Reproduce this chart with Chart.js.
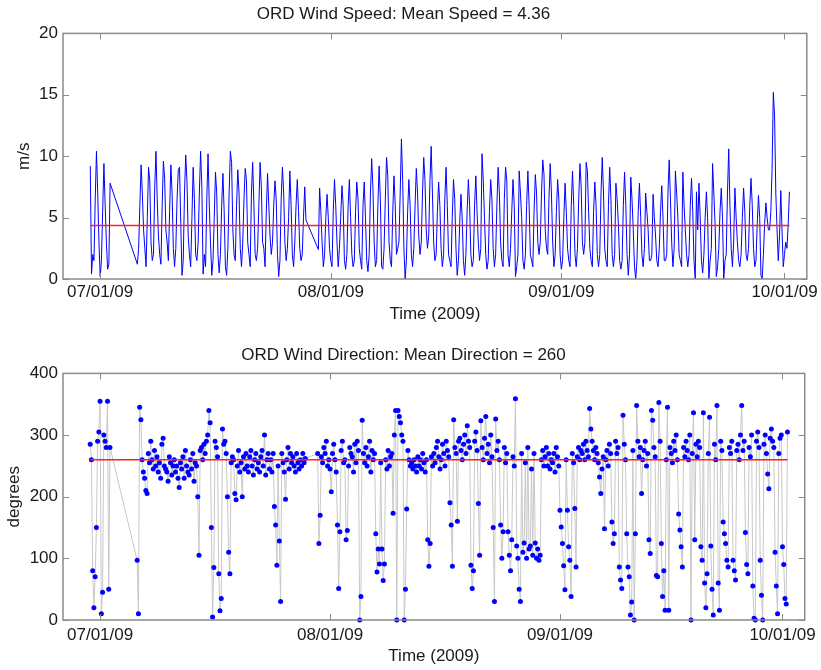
<!DOCTYPE html>
<html><head><meta charset="utf-8">
<script src="https://cdn.jsdelivr.net/npm/chart.js@4.4.0/dist/chart.umd.min.js"></script>
<style>
html,body{margin:0;padding:0;background:#fff;}
#wrap{position:relative;width:821px;height:670px;overflow:hidden;}
canvas{position:absolute;left:0;}
#c1{top:0;} #c2{top:335px;}
</style></head><body>
<div id="wrap"><canvas id="c1" width="821" height="335"></canvas><canvas id="c2" width="821" height="335"></canvas></div>
<script>
// x values are days since 07/01/09 00:00
const xTickDays = [0, 31, 62, 92];
const xTickLabels = ['07/01/09', '08/01/09', '09/01/09', '10/01/09'];
const segStartDays = [-4/3, 5, 29 + 1/3];
const stepDays = 1/6; // 4-hourly samples
const meanSpeed = 4.36;
const meanDirection = 260;

const speedSeg1 = [9.2,0.4,2.0,1.5,6.5,10.4,7.0,3.0,0.2,1.5,5.5,9.4,6.0,3.0,0.8,1.2,7.8];
const speedSeg2 = [
1.2,2.5,6.0,9.3,7.0,4.0, 2.5,1.0,5.0,9.1,8.0,3.0, 1.5,2.0,7.5,10.4,6.5,3.5, 2.0,1.2,6.0,9.6,8.2,4.0,
3.0,1.5,5.5,9.3,7.0,2.5, 1.0,2.5,6.5,8.9,9.1,4.5, 0.3,1.5,7.0,10.1,8.0,3.5, 2.0,1.0,5.0,9.1,6.5,2.0,
1.5,3.0,7.0,10.4,7.5,0.4, 2.0,1.0,6.5,10.2,6.0,3.0, 0.3,1.5,5.0,8.7,7.0,2.0, 0.5,2.0,6.0,8.6,5.5,1.0,
0.3,2.5,7.0,10.4,9.5,4.0, 2.0,1.5,6.0,8.9,7.0,2.5, 1.0,3.0,6.5,9.0,8.0,3.0, 2.0,1.0,7.0,9.5,6.0,2.0,
1.5,2.5,6.0,9.5,7.5,3.0, 2.5,1.0,5.5,8.6,6.0,3.5, 2.0,3.0,6.0,8.0,6.5,2.0, 0.2,1.5,6.5,9.1,7.0,3.0,
1.5,2.5,5.0,8.8,6.0,2.0, 1.0,3.0,6.0,8.1,5.5,2.5, 1.5,2.0,5.0,7.5,4.8];
const speedSeg3 = [
2.4,7.4,5.5,3.0,
1.0,2.0,5.0,6.9,5.0,2.5, 1.5,1.0,5.5,8.1,6.0,3.0, 1.0,2.5,5.0,7.6,6.0,1.5, 0.8,2.0,6.0,8.1,5.0,2.0,
1.0,1.5,5.5,7.9,6.5,2.5, 1.5,0.8,6.0,7.9,5.0,1.5, 0.6,2.0,7.0,9.8,7.5,3.0, 1.0,1.5,6.0,9.2,6.5,1.0,
0.8,2.5,6.5,9.9,8.4,3.0, 1.5,1.0,5.5,8.4,6.0,2.0, 2.5,3.0,7.0,11.4,8.0,2.5, 0.0,1.5,5.5,8.1,6.0,2.0,
1.0,2.5,6.0,9.0,7.0,3.5, 2.0,3.0,7.0,9.9,8.0,4.0, 2.5,3.5,8.0,10.8,7.0,3.0, 1.5,2.0,5.5,7.9,6.0,2.5,
1.0,2.0,6.5,9.1,6.0,2.0, 1.5,1.0,5.0,8.1,6.5,2.5, 0.3,1.5,4.5,6.9,5.0,1.5, 0.3,2.0,5.5,8.1,6.0,2.0,
1.0,1.5,6.0,8.4,5.5,3.0, 1.5,2.5,10.2,8.0,5.0,2.0, 0.8,1.5,5.5,8.1,6.5,2.5, 1.0,2.0,6.0,9.1,7.0,3.0,
1.5,1.0,6.5,9.1,8.0,2.0, 1.0,2.5,5.5,8.1,6.0,0.2, 1.0,2.0,8.8,7.0,5.0,1.5, 0.8,2.0,6.0,8.8,6.0,2.0,
1.5,1.0,5.5,8.5,7.0,3.0, 2.0,3.0,7.0,9.7,8.5,4.0, 2.5,2.0,6.5,9.4,7.0,3.0, 1.0,2.0,5.5,8.1,6.5,2.0,
0.8,1.5,5.0,7.8,5.5,2.5, 1.5,1.0,6.0,8.8,6.0,2.0, 1.0,2.5,6.5,9.4,7.5,3.0, 2.0,3.0,9.5,8.8,5.5,2.5,
1.5,1.0,5.5,7.9,6.0,2.0, 1.0,2.0,7.0,9.9,7.0,2.5, 1.5,1.0,6.0,9.1,6.5,2.0, 1.0,2.0,7.8,6.5,4.5,1.5,
0.8,1.5,6.0,8.7,6.0,2.0, 0.3,2.0,8.3,6.5,4.0,1.0, 0.0,1.5,5.5,7.8,5.0,2.0, 1.0,2.5,7.0,5.5,4.0,1.5,
1.5,2.0,6.9,5.0,3.5,1.5, 1.0,2.5,5.5,7.6,5.0,1.5, 1.5,2.0,7.0,9.7,6.5,3.0, 1.0,2.5,8.8,7.0,5.0,2.0,
1.5,1.0,8.7,6.0,4.0,2.0, 1.0,2.0,6.0,8.2,5.5,1.5, 0.0,7.1,4.0,7.8,5.0,1.5, 0.5,2.0,5.0,7.1,5.0,0.0,
1.5,2.5,9.4,7.0,4.5,0.2, 1.0,2.5,5.5,7.4,5.0,0.0, 1.5,2.0,7.0,10.6,6.0,2.5, 1.0,3.0,7.4,5.0,3.0,1.5,
1.0,2.0,5.0,7.4,5.5,2.0, 1.5,2.5,6.0,8.2,6.0,2.5, 1.0,1.5,4.5,6.8,5.0,0.3, 0.0,2.0,4.5,6.2,5.0,4.0,
4.0,5.5,9.0,15.2,13.3,7.0, 4.0,1.5,3.5,7.2,4.0,1.0, 2.0,3.0,2.5,4.5,7.1];

const dirSeg1 = [285,260,80,20,70,150,290,305,355,10,45,300,290,280,355,50,280];
const dirSeg2 = [
97,10,345,325,260,240, 230,210,205,270,255,290, 260,245,275,250,265,240, 255,230,285,295,250,245,
240,225,265,255,235,250, 260,240,250,230,215,255, 245,265,230,275,250,240, 235,260,245,270,225,255,
250,200,105,275,280,260, 285,270,290,300,340,320, 150,5,85,290,280,265, 75,15,35,310,285,290,
270,200,110,75,255,265, 260,205,195,250,275,240, 255,200,265,245,270,250, 240,265,275,250,235,260,
270,245,255,240,265,275, 250,300,235,260,270,245, 260,240,270,184,154,89, 250,128,30,270,255,240,
196,260,280,245,270,255, 265,250,240,270,255,245, 260,250,270,255,262];
const dirSeg3 = [
270,124,170,265,
255,280,270,290,250,260, 245,208,270,285,260,240, 154,51,143,275,290,255, 260,130,145,250,280,270,
265,240,285,255,290,275, 0,38,324,270,255,280, 250,265,290,240,275,260, 270,140,78,115,91,255,
115,64,91,260,245,275, 250,265,270,173,300,340, 0,340,330,320,300,290, 0,50,180,275,260,250,
255,245,260,250,240,265, 250,260,245,270,255,240, 260,130,87,124,265,250, 270,255,280,290,265,245,
260,285,270,250,290,275, 265,190,154,87,325,280, 270,160,290,295,275,260, 285,300,270,315,290,280,
89,51,80,290,305,275, 189,105,323,280,260,295, 330,270,285,255,300,265, 150,30,326,275,290,260,
154,100,143,280,255,270, 143,105,80,130,265,250, 359,120,100,50,30,270, 110,125,255,100,280,115,
120,245,105,270,125,100, 115,97,105,260,275,250, 265,280,250,270,245,260, 255,270,240,280,265,250,
178,151,124,88,49,260, 178,119,97,38,270,255, 181,86,265,280,260,275, 270,285,260,290,275,265,
343,310,290,275,260,280, 270,255,232,205,245,265, 148,260,275,250,285,270, 159,124,140,290,270,280,
86,65,51,332,285,260, 140,86,70,8,29,275, 0,140,348,290,265,280, 205,260,275,290,250,270,
130,108,340,324,280,265, 72,70,353,290,124,38, 80,16,260,345,16,280, 270,255,290,275,300,260,
172,146,119,86,280,265, 290,275,260,300,0,270, 336,130,285,265,290,280, 119,97,336,60,20,75,
270,329,120,50,8,285, 260,348,60,16,290,275, 159,140,124,97,86,280, 270,290,97,80,65,275,
285,260,300,348,275,290, 142,90,75,280,265,300, 55,3,0,290,305,280, 97,40,0,285,300,270,
237,213,295,310,290,280, 110,55,10,270,295,300, 119,90,35,26,305];

const FONT = "'Liberation Sans', Arial, Helvetica, sans-serif";
const TXT = '#1a1a1a';

function toPoints(segs) {
  const pts = [];
  segs.forEach((arr, i) => arr.forEach((v, j) => pts.push({x: segStartDays[i] + j * stepDays, y: v})));
  return pts;
}

const boxPlugin = {
  id: 'matlabBox',
  afterDatasetsDraw(chart) {
    const {ctx, chartArea: a, scales: {x, y}} = chart;
    ctx.save();
    ctx.strokeStyle = '#8a8a8a';
    ctx.lineWidth = 1;
    ctx.beginPath();
    x.ticks.forEach(t => {
      const p = Math.round(x.getPixelForValue(t.value)) + 0.5;
      ctx.moveTo(p, a.bottom); ctx.lineTo(p, a.bottom - 6);
      ctx.moveTo(p, a.top); ctx.lineTo(p, a.top + 6);
    });
    y.ticks.forEach(t => {
      const p = Math.round(y.getPixelForValue(t.value)) + 0.5;
      ctx.moveTo(a.left, p); ctx.lineTo(a.left + 6, p);
      ctx.moveTo(a.right, p); ctx.lineTo(a.right - 6, p);
    });
    ctx.stroke();
    ctx.lineWidth = 1.5;
    ctx.strokeRect(a.left, a.top, a.right - a.left, a.bottom - a.top);
    ctx.restore();
  }
};

function makeChart(id, o) {
  const first = segStartDays[0];
  const last = segStartDays[2] + (o.segs[2].length - 1) * stepDays;
  const datasets = [
    {data: [{x: first, y: o.mean}, {x: last, y: o.mean}], borderColor: '#ff2020', borderWidth: 1.6,
     pointRadius: 0, order: 0},
    Object.assign({data: toPoints(o.segs), order: 1, tension: 0}, o.style)
  ];
  return new Chart(document.getElementById(id), {
    type: 'line',
    data: {datasets},
    options: {
      responsive: false, animation: false, devicePixelRatio: 1,
      layout: {padding: {left: 0, right: 14, top: 0, bottom: 0}},
      plugins: {
        legend: {display: false}, tooltip: {enabled: false},
        title: {display: true, text: o.title, color: TXT, font: {family: FONT, size: 17, weight: 'normal'},
                padding: o.titlePad}
      },
      scales: {
        x: {
          type: 'linear', min: -5, max: 95,
          afterBuildTicks: s => { s.ticks = xTickDays.map(v => ({value: v})); },
          afterFit: s => { s.height = o.xHeight; },
          grid: {display: false, drawTicks: false}, border: {display: false},
          ticks: {autoSkip: false, maxRotation: 0, padding: o.xTickPad, color: TXT,
                  font: {family: FONT, size: 17},
                  callback: v => xTickLabels[xTickDays.indexOf(v)]},
          title: {display: true, text: 'Time (2009)', color: TXT, font: {family: FONT, size: 17},
                  padding: {top: 0, bottom: o.xTitlePad}}
        },
        y: {
          type: 'linear', min: 0, max: o.ymax,
          afterFit: s => { s.width = 63; },
          grid: {display: false, drawTicks: false}, border: {display: false},
          ticks: {stepSize: o.ystep, padding: 5, color: TXT, font: {family: FONT, size: 17}},
          title: {display: true, text: o.ytitle, color: TXT, font: {family: FONT, size: 17},
                  padding: {top: o.yTitlePad, bottom: 0}}
        }
      }
    },
    plugins: [boxPlugin]
  });
}

makeChart('c1', {
  title: 'ORD Wind Speed: Mean Speed = 4.36', mean: meanSpeed, ymax: 20, ystep: 5, ytitle: 'm/s',
  segs: [speedSeg1, speedSeg2, speedSeg3],
  style: {borderColor: '#0000ff', borderWidth: 1, pointRadius: 0},
  titlePad: {top: 4, bottom: 9}, xHeight: 56, xTickPad: 3, xTitlePad: 10, yTitlePad: 14
});
makeChart('c2', {
  title: 'ORD Wind Direction: Mean Direction = 260', mean: meanDirection, ymax: 400, ystep: 100, ytitle: 'degrees',
  segs: [dirSeg1, dirSeg2, dirSeg3],
  style: {borderColor: '#c8c8c8', borderWidth: 1, pointRadius: 2.5, pointBackgroundColor: '#0000ff',
          pointBorderColor: '#0000ff', pointBorderWidth: 0, clip: 5},
  titlePad: {top: 10, bottom: 8}, xHeight: 50, xTickPad: 5, xTitlePad: 3, yTitlePad: 4
});
</script>
</body></html>
